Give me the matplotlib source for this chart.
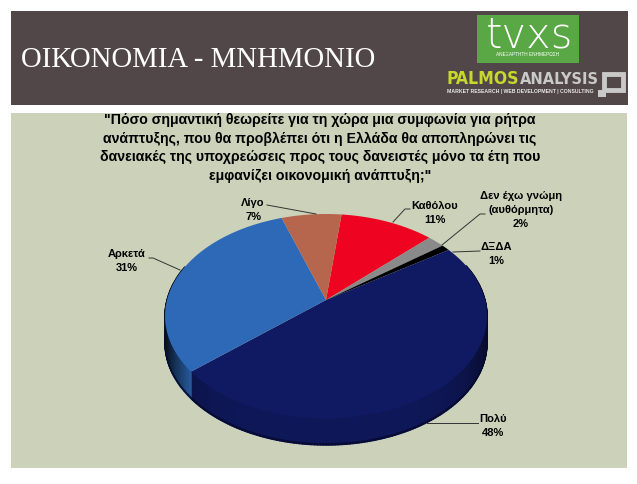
import numpy as np
import matplotlib
matplotlib.use("Agg")
import matplotlib.pyplot as plt
from matplotlib import font_manager as fm
from matplotlib.patches import Rectangle
from matplotlib.path import Path
from matplotlib.transforms import Transform, Affine2D
from matplotlib.collections import PolyCollection
from matplotlib.colors import to_rgb

# ---- data ----
labels = ["Καθόλου", "Δεν έχω γνώμη\n(αυθόρμητα)", "ΔΞΔΑ", "Πολύ", "Αρκετά", "Λίγο"]
values = [11, 2, 1, 48, 31, 7]
colors = ["#ee0420", "#8a8a8a", "#000000", "#101a62", "#2e69b8", "#b5664c"]
title = "ΟΙΚΟΝΟΜΙΑ - ΜΝΗΜΟΝΙΟ"
question = ('"Πόσο σημαντική θεωρείτε για τη χώρα μια συμφωνία για ρήτρα\n'
            'ανάπτυξης, που θα προβλέπει ότι η Ελλάδα θα αποπληρώνει τις\n'
            'δανειακές της υποχρεώσεις προς τους δανειστές μόνο τα έτη που\n'
            'εμφανίζει οικονομική ανάπτυξη;"')

W, H = 637, 484
plt.rcParams['font.family'] = ['Liberation Sans', 'DejaVu Sans']
fig = plt.figure(figsize=(W / 100, H / 100), dpi=100, facecolor="white")
ax = fig.add_axes([0, 0, 1, 1])

START = 83.5
CX, CY = 326.0, 300.0
RX, RY, K = 159.0, 99.5, 0.157


class Persp(Transform):
    """Perspective projection of the unit-circle pie on to the tilted disc (pixel axes)."""
    input_dims = 2
    output_dims = 2
    is_separable = False

    def transform_non_affine(self, xy):
        xy = np.asarray(xy, float)
        w = 1 + K * xy[:, 1]
        return np.column_stack([CX + RX * xy[:, 0] / w, CY - RY * xy[:, 1] / w])

    def transform_path_non_affine(self, path):
        s = 400.0
        polys = path.to_polygons(Affine2D().scale(s), closed_only=True)
        verts = np.vstack(polys) / s
        codes = np.full(len(verts), Path.LINETO)
        codes[0] = Path.MOVETO
        return Path(self.transform_non_affine(verts), codes)


wedges, _ = ax.pie(values, colors=colors, startangle=START, counterclock=False, radius=1.0)
ax.set_aspect("auto")
ax.set_xlim(0, W)
ax.set_ylim(H, 0)
ax.axis("off")

# backgrounds
ax.add_patch(Rectangle((11, 113), 616, 355, fc="#ccd1b9", ec="none", zorder=0))
ax.add_patch(Rectangle((11, 11), 617, 94, fc="#524748", ec="none", zorder=0))

top = Persp()
for w in wedges:
    w.set_transform(top + ax.transData)
    w.set_zorder(3)
    w.set_edgecolor("none")

# side wall: strips hanging under the visible rim of each slice
DEPTH = 27
angles = START - np.cumsum([0] + values) * 3.6
polys, fcs, dark_polys = [], [], []
for i, c in enumerate(colors):
    a = np.linspace(angles[i], angles[i + 1], max(3, int(values[i] * 4)))
    base = np.array(to_rgb(c))
    for a0, a1 in zip(a[:-1], a[1:]):
        p0 = np.column_stack([np.cos(np.radians([a0, a1])), np.sin(np.radians([a0, a1]))])
        if p0[:, 1].min() > 0.35:
            continue
        t = top.transform_non_affine(p0)
        polys.append(np.vstack([t, t[::-1] + [0, DEPTH]]))
        dark_polys.append(np.vstack([t + [0, DEPTH - 1.5], t[::-1] + [0, DEPTH]]))
        mid = np.radians((a0 + a1) / 2)
        if i == 4:
            shade = np.clip(0.9 - (-0.75 - np.cos(mid)) / 0.22 * 0.72, 0.18, 0.9)
        else:
            shade = 0.9 - 0.55 * abs(np.cos(mid)) ** 5
        fcs.append(base * shade)
ax.add_collection(PolyCollection(polys, facecolors=fcs, edgecolors=fcs, linewidths=1.0, zorder=2))
ax.add_collection(PolyCollection(dark_polys, facecolors="#070b30", edgecolors="#070b30",
                                 linewidths=0.5, alpha=0.8, zorder=2.5))

# header
ax.text(21, 60, title, color="white", fontsize=20.7, family="Liberation Serif", va="center", ha="left", zorder=5)
ax.add_patch(Rectangle((477, 15), 102, 48, fc="#5aa845", ec="none", zorder=4))
ax.text(529.5, 47.5, "tvxs", color="white", fontsize=30, family="DejaVu Sans", weight="ultralight",
        ha="center", va="baseline", zorder=5)
ax.text(528, 54, "ΑΝΕΞΑΡΤΗΤΗ ΕΝΗΜΕΡΩΣΗ", color="white", fontsize=3.4, ha="center", va="center", zorder=5)


def fitted(x, y, s, width, size, **kw):
    t = ax.text(x, y, s, fontsize=size, ha="left", va="center", zorder=5, **kw)
    bb = t.get_window_extent(fig.canvas.get_renderer())
    t.set_fontsize(size * width / bb.width)
    return t


names = {f.name for f in fm.fontManager.ttflist}
narrow = "Liberation Sans Narrow" if "Liberation Sans Narrow" in names else "DejaVu Sans"
stretch = {"family": narrow, "weight": "bold"}
if narrow == "DejaVu Sans":
    stretch["stretch"] = "condensed"
fitted(447, 79.5, "PALMOS", 73, 16, color="#c6d92d", **stretch)
fitted(520, 79.5, "ANALYSIS", 79, 16, color="#c9c9c9", **stretch)
fitted(447, 92, "MARKET RESEARCH | WEB DEVELOPMENT | CONSULTING", 148, 3.5, color="#e8e8e8", weight="bold")
ax.add_patch(Rectangle((604, 74), 19, 16, fc="none", ec="#c9c9c9", lw=3.5, zorder=5))
ax.add_patch(Rectangle((598, 90), 8, 7, fc="#c9c9c9", ec="none", zorder=5))

# question
ax.text(320, 148, question, color="black", fontsize=10.2, weight="bold", ha="center", va="center",
        linespacing=1.39, zorder=5)

# slice labels with leader lines
label_pos = [(435, 213), (521, 210), (496, 254), (493, 426), (127, 261), (253, 210)]
leaders = [
    [(393, 222), (405, 209), (410, 209)],
    [(442, 245), (480, 214), (485, 214)],
    [(453, 252), (480, 251)],
    [(427, 423), (478, 423)],
    [(180, 270), (153, 258), (149, 258)],
    [(267, 205), (316, 214)],
]
for name, v, (x, y), pts in zip(labels, values, label_pos, leaders):
    ax.text(x, y, f"{name}\n{v}%", fontsize=8, weight="bold", color="black", ha="center", va="center",
            linespacing=1.5, zorder=6)
    pts = np.array(pts)
    ax.plot(pts[:, 0], pts[:, 1], color="#333333", lw=0.7, zorder=6)

fig.savefig("out.png", dpi=100, facecolor="white")
